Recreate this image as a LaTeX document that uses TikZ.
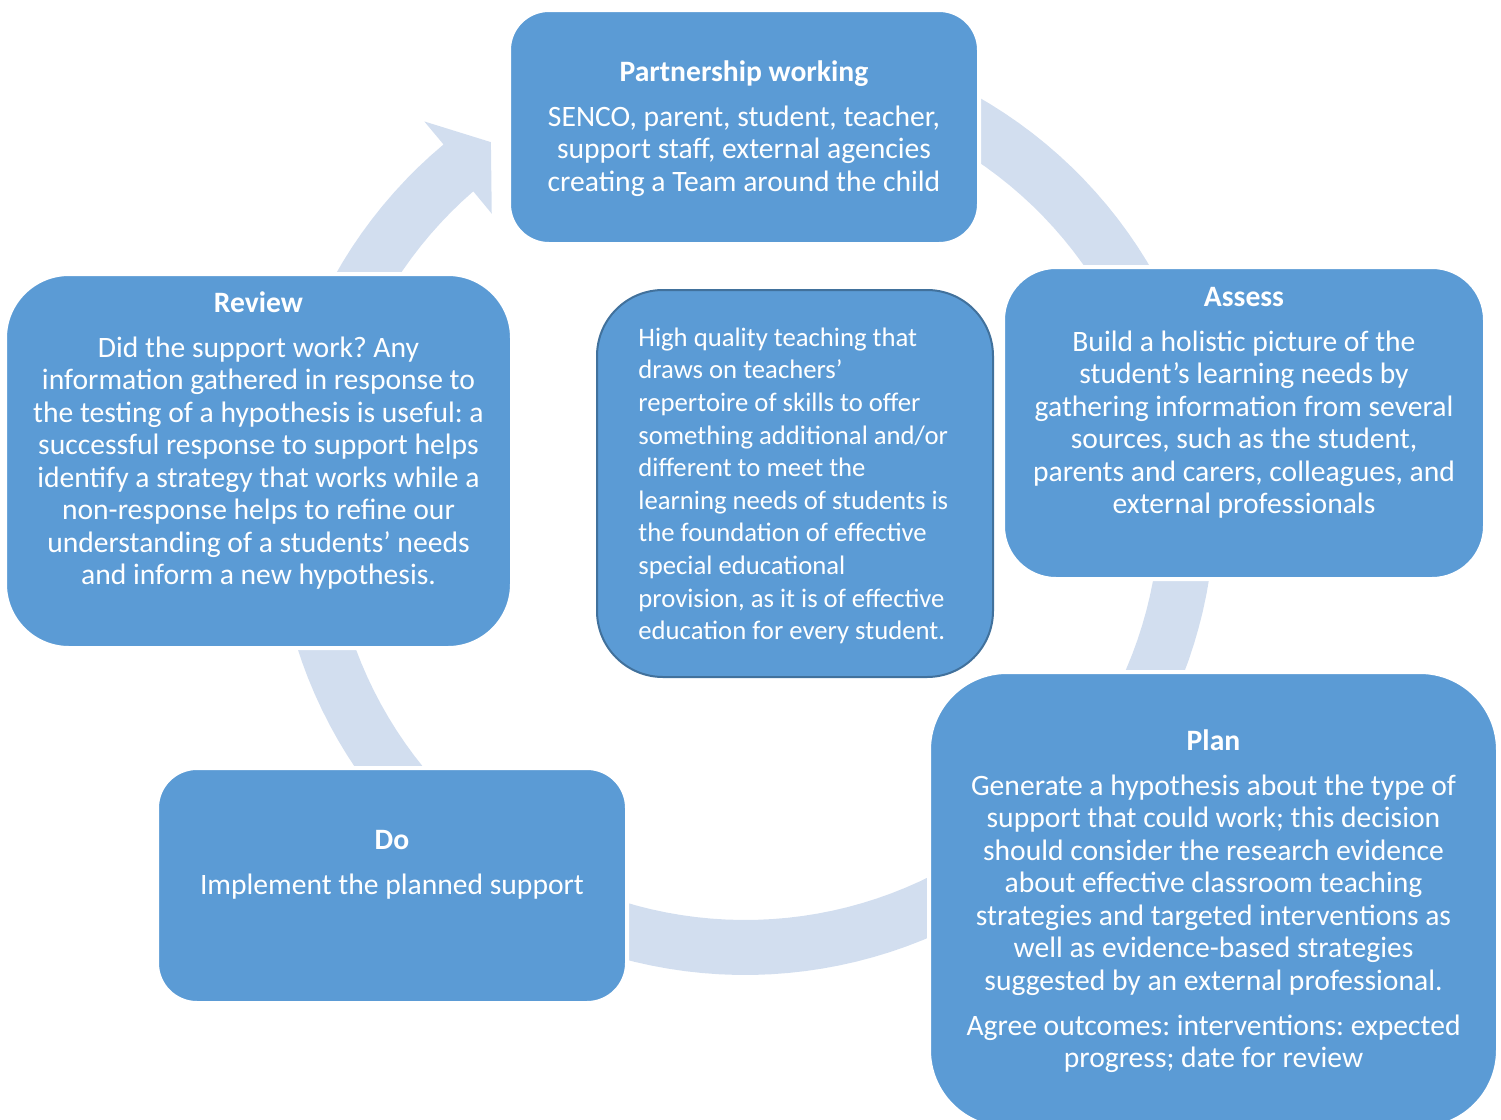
\documentclass[tikz,border=0pt]{standalone}
\usepackage{fontspec}
\setmainfont{Carlito}
\usetikzlibrary{calc}
\frenchspacing

\definecolor{boxblue}{HTML}{5B9BD5}
\definecolor{ringblue}{HTML}{D2DEEF}
\definecolor{edgeblue}{HTML}{41719C}

\tikzset{
	stage/.style={rectangle,fill=boxblue,draw=white,line width=2pt,inner sep=0pt},
	txt/.style={text=white,align=center,inner sep=0pt,anchor=north,font=\fontsize{14.8}{16.25}\selectfont},
}

\begin{document}
\begin{tikzpicture}[x=0.5pt,y=-0.5pt,line join=round]
	\useasboundingbox (0,0) rectangle (1501,1120);
	\coordinate (C) at (745,505);
	\coordinate (wo) at ($(C)+(590.1:500)$);
	\coordinate (tip) at ($(C)+(595:443)$);
	\coordinate (wi) at ($(C)+(589:386)$);
	% ring with arrow head
	\fill[ringblue] plot[domain=255:590.1,samples=160] ({745+470*cos(\x)},{505+470*sin(\x)})
		-- (wo) -- (tip) -- (wi)
		-- plot[domain=589.1:255,samples=160] ({745+415*cos(\x)},{505+415*sin(\x)}) -- cycle;
	% boxes
	\node[stage,minimum width=235pt,minimum height=117pt,rounded corners=20pt] (partner) at (744,127) {};
	\node[stage,minimum width=253.5pt,minimum height=187pt,rounded corners=32pt] (review) at (258.5,461) {};
	\node[stage,minimum width=241pt,minimum height=156pt,rounded corners=26.5pt] (assess) at (1244,423) {};
	\node[stage,minimum width=284.5pt,minimum height=228pt,rounded corners=39pt] (plan) at (1213.5,900) {};
	\node[stage,minimum width=235pt,minimum height=117.5pt,rounded corners=20pt] (do) at (392,885.5) {};
	\node[stage,draw=edgeblue,line width=1pt,minimum width=198pt,minimum height=193.5pt,rounded corners=33pt] (core) at (795,483.5) {};
	% texts
	\node[txt] (partnertxt) at (744,58) {\strut\textbf{Partnership working}\\[6.25pt]
		SENCO, parent, student, teacher,\\
		support staff, external agencies\\
		creating a Team around the child};
	\node[txt] (reviewtxt) at (258.5,289) {\strut\textbf{Review}\\[6.25pt]
		Did the support work? Any\\
		information gathered in response to\\
		the testing of a hypothesis is useful: a\\
		successful response to support helps\\
		identify a strategy that works while a\\
		non-response helps to refine our\\
		understanding of a students’ needs\\
		and inform a new hypothesis.};
	\node[txt] (assesstxt) at (1244,283) {\strut\textbf{Assess}\\[6.25pt]
		Build a holistic picture of the\\
		student’s learning needs by\\
		gathering information from several\\
		sources, such as the student,\\
		parents and carers, colleagues, and\\
		external professionals};
	\node[txt] (plantxt) at (1213.5,727) {\strut\textbf{Plan}\\[6.25pt]
		Generate a hypothesis about the type of\\
		support that could work; this decision\\
		should consider the research evidence\\
		about effective classroom teaching\\
		strategies and targeted interventions as\\
		well as evidence-based strategies\\
		suggested by an external professional.\\[6.25pt]
		Agree outcomes: interventions: expected\\
		progress; date for review};
	\node[txt] (dotxt) at (392,826) {\strut\textbf{Do}\\[6.25pt]
		Implement the planned support};
	\node[txt,align=left,anchor=north west,font=\fontsize{13.35}{16.3}\selectfont] (coretxt) at (638,323) {\strut High quality teaching that\\
		draws on teachers’\\
		repertoire of skills to offer\\
		something additional and/or\\
		different to meet the\\
		learning needs of students is\\
		the foundation of effective\\
		special educational\\
		provision, as it is of effective\\
		education for every student.};
\end{tikzpicture}
\end{document}
